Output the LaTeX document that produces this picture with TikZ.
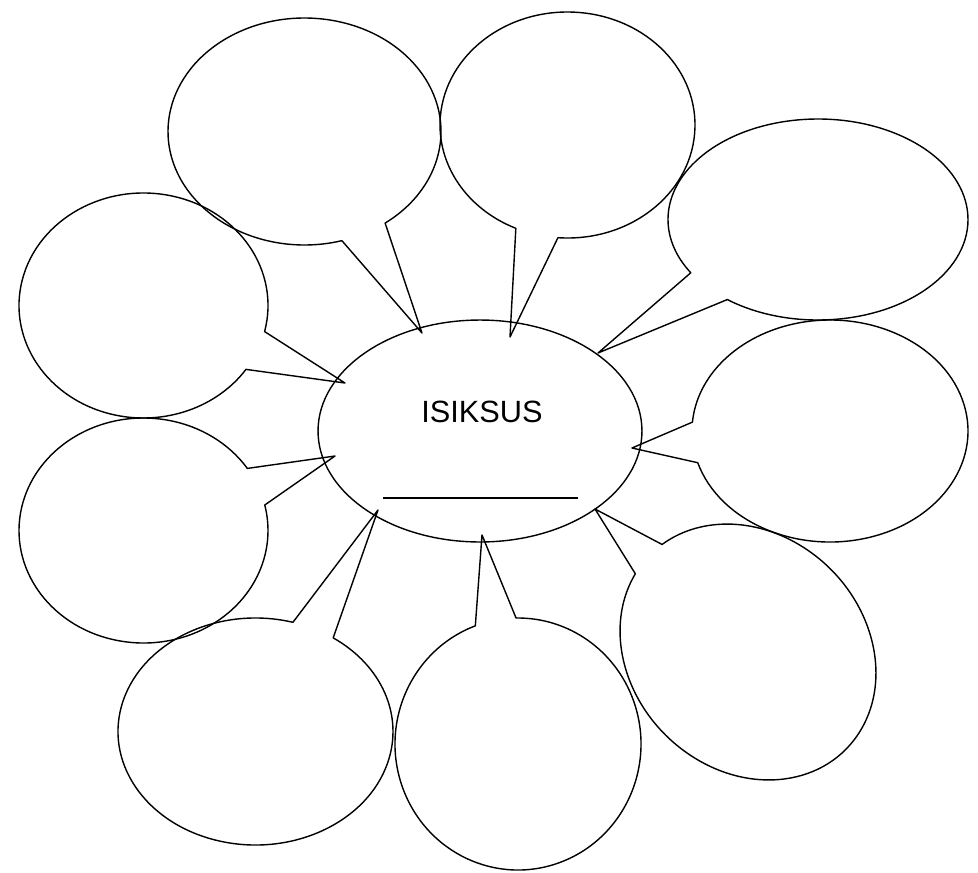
\documentclass[tikz,border=0pt]{standalone}
\usepackage{fontspec}
\setmainfont{Liberation Sans}
\usetikzlibrary{shapes.geometric}

\begin{document}
\begin{tikzpicture}[
  x=0.02cm, y=0.02cm,
  bubble/.style={draw,line width=0.8pt,line join=round},
  topic/.style={draw,ellipse,line width=0.8pt,inner sep=0pt,minimum width=6.48cm,minimum height=4.44cm},
  blank/.style={line width=1pt}
]
  \useasboundingbox (0,0) rectangle (978,-873);

  \node[topic] (topic) at (480,-431) {};
  \node[font=\fontsize{17.5}{19}\selectfont] (title) at (482,-412) {ISIKSUS};
  \coordinate (blankl) at (383,-498);
  \coordinate (blankr) at (578,-498);
  \draw[blank] (blankl) -- (blankr);

  \coordinate (t1) at (422,-333);
  \coordinate (t2) at (510,-337);
  \coordinate (t3) at (598,-353);
  \coordinate (t4) at (345,-383);
  \coordinate (t5) at (632,-448);
  \coordinate (t6) at (335,-456);
  \coordinate (t7) at (378,-510);
  \coordinate (t8) at (482,-535);
  \coordinate (t9) at (595,-509);

  \draw[bubble] (304.5,-131.5) ++(-53.8:136.5 and 113.5)
    arc[start angle=-53.8,end angle=285.9,x radius=136.5,y radius=113.5] -- (t1) -- cycle;
  \draw[bubble] (567.5,-125) ++(-94.3:127.5 and 113)
    arc[start angle=-94.3,end angle=246.1,x radius=127.5,y radius=113] -- (t2) -- cycle;
  \draw[bubble] (818,-219.5) ++(232.8:150 and 100.5)
    arc[start angle=232.8,end angle=572,x radius=150,y radius=100.5] -- (t3) -- cycle;
  \draw[bubble] (143.5,-305.5) ++(-13.4:124.5 and 112.5)
    arc[start angle=-13.4,end angle=325.4,x radius=124.5,y radius=112.5] -- (t4) -- cycle;
  \draw[bubble] (830,-431) ++(196.6:138 and 111)
    arc[start angle=196.6,end angle=535.4,x radius=138,y radius=111] -- (t5) -- cycle;
  \draw[bubble] (143.5,-530.5) ++(33.5:124.5 and 112.5)
    arc[start angle=33.5,end angle=373.1,x radius=124.5,y radius=112.5] -- (t6) -- cycle;
  \draw[bubble] (255.5,-731.5) ++(74.2:137.5 and 113.5)
    arc[start angle=74.2,end angle=415.6,x radius=137.5,y radius=113.5] -- (t7) -- cycle;
  \draw[bubble] (518,-744) ++(110.3:123 and 126)
    arc[start angle=110.3,end angle=450.9,x radius=123,y radius=126] -- (t8) -- cycle;
  \begin{scope}[shift={(748,-652)},rotate=-45]
    \draw[bubble] (192:138 and 117)
      arc[start angle=192,end angle=532.5,x radius=138,y radius=117] -- (t9) -- cycle;
  \end{scope}
\end{tikzpicture}
\end{document}
